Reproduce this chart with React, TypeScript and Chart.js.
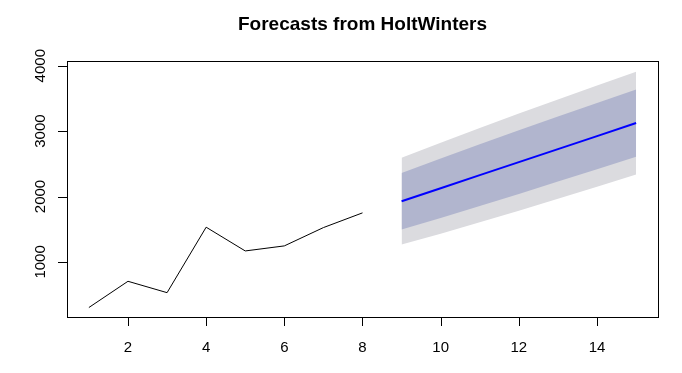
import React, { useEffect, useRef } from "react";
import { Chart, registerables } from "chart.js";

Chart.register(...registerables);

const titleText = "Forecasts from HoltWinters";
const histX = [1, 2, 3, 4, 5, 6, 7, 8];
const histY = [303, 704, 530, 1531, 1168, 1245, 1525, 1750];
const fcX = [9, 10, 11, 12, 13, 14, 15];
const fcMean = [1928, 2127, 2327, 2526, 2725, 2924, 3123];
const fcHi80 = [2361, 2583, 2799, 3012, 3222, 3430, 3637];
const fcLo80 = [1495, 1671, 1855, 2040, 2228, 2418, 2609];
const fcHi95 = [2591, 2824, 3049, 3269, 3485, 3698, 3909];
const fcLo95 = [1265, 1430, 1605, 1783, 1965, 2150, 2337];
const xTicks = [2, 4, 6, 8, 10, 12, 14];
const yTicks = [1000, 2000, 3000, 4000];

const FONT = '"Liberation Sans", Arial, sans-serif';

const pts = (xs: number[], ys: number[]) => xs.map((x, i) => ({ x, y: ys[i] }));

const decorPlugin = {
  id: "rdecor",
  afterDraw(chart: any) {
    const ctx = chart.ctx;
    const a = chart.chartArea;
    const xs = chart.scales.x;
    const ys = chart.scales.y;
    ctx.save();
    ctx.strokeStyle = "#000";
    ctx.lineWidth = 1;
    ctx.strokeRect(a.left + 0.5, a.top + 0.5, a.right - a.left, a.bottom - a.top);
    ctx.fillStyle = "#000";
    ctx.font = `15px ${FONT}`;
    // x axis
    ctx.beginPath();
    for (const t of xTicks) {
      const px = Math.round(xs.getPixelForValue(t)) + 0.5;
      ctx.moveTo(px, a.bottom);
      ctx.lineTo(px, a.bottom + 9);
    }
    ctx.stroke();
    ctx.textAlign = "center";
    ctx.textBaseline = "alphabetic";
    for (const t of xTicks) {
      const px = xs.getPixelForValue(t);
      ctx.fillText(String(t), px, 351.5);
    }
    // y axis
    ctx.beginPath();
    for (const t of yTicks) {
      const py = Math.round(ys.getPixelForValue(t)) + 0.5;
      ctx.moveTo(a.left - 9, py);
      ctx.lineTo(a.left, py);
    }
    ctx.stroke();
    for (const t of yTicks) {
      const py = ys.getPixelForValue(t);
      ctx.save();
      ctx.translate(45, py);
      ctx.rotate(-Math.PI / 2);
      ctx.textAlign = "center";
      ctx.fillText(String(t), 0, 0);
      ctx.restore();
    }
    // title
    ctx.font = `bold 19px ${FONT}`;
    ctx.textAlign = "center";
    ctx.fillText(titleText, (a.left + a.right) / 2, 30);
    ctx.restore();
  },
};

export default function App() {
  const ref = useRef<HTMLCanvasElement | null>(null);
  useEffect(() => {
    document.body.style.margin = "0";
    const canvas = ref.current;
    if (!canvas) return;
    const chart = new Chart(canvas, {
      type: "line",
      data: {
        datasets: [
          {
            data: pts(fcX, fcMean),
            borderColor: "#0000FF",
            borderWidth: 2,
            pointRadius: 0,
            fill: false,
          },
          {
            data: pts(histX, histY),
            borderColor: "#000000",
            borderWidth: 1,
            pointRadius: 0,
            fill: false,
          },
          {
            data: pts(fcX, fcHi80),
            borderWidth: 0,
            borderColor: "rgba(0,0,0,0)",
            backgroundColor: "#B1B5CE",
            pointRadius: 0,
            fill: 3,
          },
          {
            data: pts(fcX, fcLo80),
            borderWidth: 0,
            borderColor: "rgba(0,0,0,0)",
            pointRadius: 0,
            fill: false,
          },
          {
            data: pts(fcX, fcHi95),
            borderWidth: 0,
            borderColor: "rgba(0,0,0,0)",
            backgroundColor: "#DBDBDF",
            pointRadius: 0,
            fill: 5,
          },
          {
            data: pts(fcX, fcLo95),
            borderWidth: 0,
            borderColor: "rgba(0,0,0,0)",
            pointRadius: 0,
            fill: false,
          },
        ],
      },
      options: {
        responsive: false,
        animation: false,
        events: [],
        layout: { padding: { left: 67, right: 24, top: 61, bottom: 56 } },
        elements: { line: { tension: 0 } },
        plugins: { legend: { display: false }, tooltip: { enabled: false }, title: { display: false } },
        scales: {
          x: { type: "linear", min: 0.44, max: 15.56, display: false },
          y: { type: "linear", min: 158, max: 4072, display: false },
        },
      },
      plugins: [decorPlugin],
    });
    return () => chart.destroy();
  }, []);
  return (
    <div style={{ width: 682, height: 373, background: "#fff" }}>
      <canvas ref={ref} width={682} height={373} style={{ display: "block" }} />
    </div>
  );
}
